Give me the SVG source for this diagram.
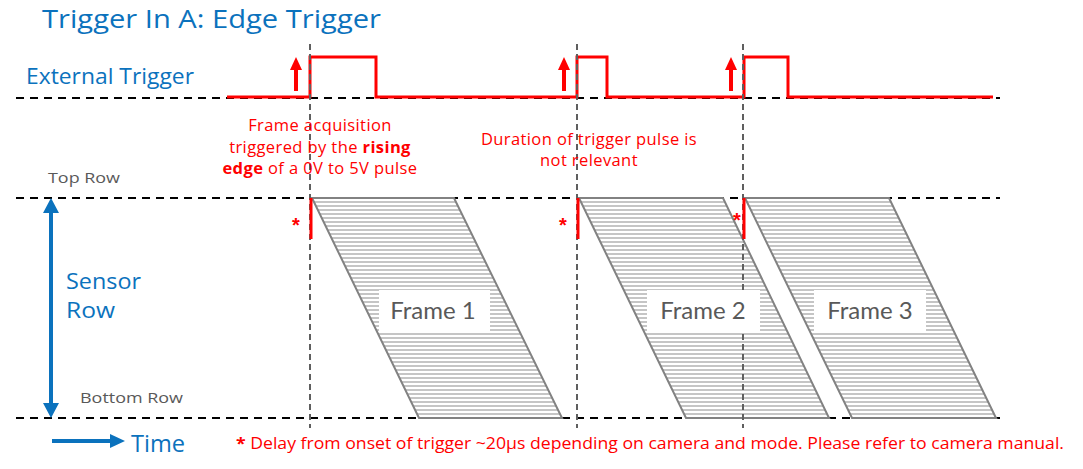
<svg xmlns="http://www.w3.org/2000/svg" width="1083" height="469" viewBox="0 0 1083 469">
<style>
.blue{fill:#0b72bd;font-family:"Open Sans","Liberation Sans",sans-serif}
.red{fill:#ff0000;font-family:"Open Sans","Liberation Sans",sans-serif;font-size:16.5px;letter-spacing:0.4px}
.gray{fill:#595959;font-family:"Open Sans","Liberation Sans",sans-serif;font-size:15px}
.ftxt{fill:#595959;font-family:Lato,"Open Sans",sans-serif;font-size:24px}
.hd{stroke:#000;stroke-width:2;stroke-dasharray:8 6;fill:none}
.vd{stroke:#5f5f5f;stroke-width:2;stroke-dasharray:6 4;fill:none}
.frame{fill:url(#rows);stroke:#828282;stroke-width:2}
.sig{stroke:#ff0000;stroke-width:3;fill:none}
.bar{stroke:#ff0000;stroke-width:3}
.ast{fill:#ff0000;font-family:"Liberation Sans",sans-serif;font-size:20px;font-weight:bold}
</style>
<defs>
<pattern id="rows" patternUnits="userSpaceOnUse" x="0" y="0" width="20" height="4">
<rect x="0" y="0" width="20" height="4" fill="#fff"/>
<rect x="0" y="1.5" width="20" height="1" fill="#8c8c8c"/>
</pattern>
</defs>
<rect width="1083" height="469" fill="#fff"/>

<g id="title"><text class="blue" x="42" y="28" font-size="26" textLength="339" lengthAdjust="spacingAndGlyphs">Trigger In A: Edge Trigger</text></g>

<g id="axes-lines">
<path class="hd" d="M16,98 H1000"/>
<path class="hd" d="M16,198 H1000"/>
<path class="hd" d="M16,418 H1000"/>
</g>

<g id="labels">
<text class="blue" x="26" y="84" font-size="21" textLength="168" lengthAdjust="spacingAndGlyphs">External Trigger</text>
<text class="gray" x="48" y="183" textLength="72" lengthAdjust="spacingAndGlyphs">Top Row</text>
<text class="gray" x="80" y="403" textLength="103" lengthAdjust="spacingAndGlyphs">Bottom Row</text>
<text class="blue" x="66" y="289" font-size="21" textLength="75" lengthAdjust="spacingAndGlyphs">Sensor</text>
<text class="blue" x="66" y="318" font-size="21" textLength="49" lengthAdjust="spacingAndGlyphs">Row</text>
<text class="blue" x="131" y="452" font-size="23" textLength="54" lengthAdjust="spacingAndGlyphs">Time</text>
</g>

<g id="trigger-signal">
<path class="sig" d="M227,97 H310 V57 H376 V97 H577 V57 H607 V97 H744 V57 H788 V97 H993"/>
</g>

<g id="frame1"><polygon class="frame" points="312,198 454,198 562,418 419,418"/></g>
<g id="frame2"><polygon class="frame" points="579,198 723,198 829,418 686,418"/></g>
<g id="frame3"><polygon class="frame" points="745,198 889,198 996,418 852,418"/></g>

<g id="trigger-lines">
<path class="vd" d="M310,44 V428"/>
<path class="vd" d="M577,44 V428"/>
<path class="vd" d="M743,44 V428"/>
</g>

<g id="frame-labels">
<rect x="379" y="290" width="111" height="42" fill="#fff"/>
<text class="ftxt" x="433" y="319" text-anchor="middle">Frame 1</text>
<rect x="647" y="290" width="113" height="42" fill="#fff"/>
<text class="ftxt" x="703" y="319" text-anchor="middle">Frame 2</text>
<rect x="814" y="290" width="112" height="42" fill="#fff"/>
<text class="ftxt" x="870" y="319" text-anchor="middle">Frame 3</text>
</g>

<g id="delay-markers">
<line class="bar" x1="311" y1="198" x2="311" y2="239"/>
<line class="bar" x1="578" y1="198" x2="578" y2="239"/>
<line class="bar" x1="744" y1="198" x2="744" y2="239"/>
<text class="ast" x="296" y="232" text-anchor="middle">*</text>
<text class="ast" x="563" y="232" text-anchor="middle">*</text>
<text class="ast" x="737" y="227" text-anchor="middle">*</text>
</g>

<g id="notes">
<text class="red" text-anchor="middle"><tspan x="320" y="131">Frame acquisition</tspan><tspan x="320" y="153">triggered by the <tspan font-weight="bold">rising</tspan></tspan><tspan x="320" y="174"><tspan font-weight="bold">edge</tspan> of a 0V to 5V pulse</tspan></text>
<text class="red" text-anchor="middle"><tspan x="589" y="145">Duration of trigger pulse is</tspan><tspan x="589" y="166">not relevant</tspan></text>
<text class="red" style="letter-spacing:0" font-size="15.5" x="236" y="449" textLength="828" lengthAdjust="spacingAndGlyphs"><tspan font-weight="bold">*</tspan> Delay from onset of trigger ~20μs depending on camera and mode. Please refer to camera manual.</text>
</g>

<g id="connectors">
<g fill="#ff0000" stroke="none">
<rect x="294" y="68" width="4" height="23"/><polygon points="296,57 302,70 290,70"/>
<rect x="562" y="68" width="4" height="23"/><polygon points="564,57 570,70 558,70"/>
<rect x="729" y="68" width="4" height="23"/><polygon points="731,57 737,70 725,70"/>
</g>
<g fill="#0b72bd" stroke="none">
<rect x="49" y="211" width="4" height="194"/>
<polygon points="51,198 59,213 43,213"/>
<polygon points="51,418 59,403 43,403"/>
<rect x="52" y="439" width="60" height="4"/>
<polygon points="125,441 110,434 110,448"/>
</g>
</g>
</svg>
